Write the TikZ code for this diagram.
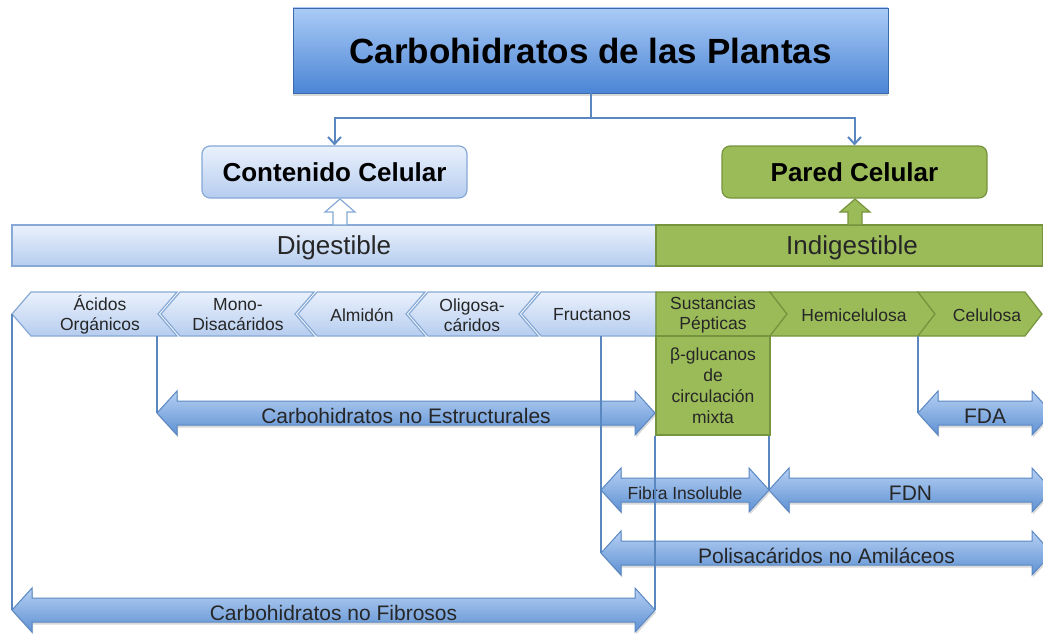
\documentclass[tikz,border=0pt]{standalone}
\usepackage{fontspec}
\setmainfont{Liberation Sans}
\usetikzlibrary{arrows.meta,shadows}
\definecolor{lnblue}{HTML}{5B87C0}
\definecolor{chevtop}{HTML}{EAF1FC}
\definecolor{chevbot}{HTML}{B6CDEF}
\definecolor{chevline}{HTML}{86A9D6}
\definecolor{grfill}{HTML}{9BBB59}
\definecolor{grline}{HTML}{76943D}
\definecolor{arrtop}{HTML}{B6D0F3}
\definecolor{arrbot}{HTML}{5E91D3}
\definecolor{arrline}{HTML}{5A88C4}
\definecolor{tittop}{HTML}{AACBF6}
\definecolor{titbot}{HTML}{4B85D5}
\tikzset{
 bluechev/.style={draw=chevline, line width=1.2pt, top color=chevtop, bottom color=chevbot},
 greenchev/.style={draw=grline, line width=1.2pt, fill=grfill},
 lbl/.style={font=\fontsize{17.5}{20}\selectfont, align=center, inner sep=0pt, text=black!85},
 barr/.style={draw=arrline, line width=1pt, top color=arrtop, bottom color=arrbot,
   drop shadow={shadow xshift=1pt,shadow yshift=-2.5pt,opacity=0.3}},
 arrtxt/.style={inner sep=0pt, text=black!85},
 conn/.style={draw=lnblue, line width=2pt},
 titlebox/.style={draw=titbot!80!black, line width=0.8pt, top color=tittop, bottom color=titbot,
   drop shadow={shadow xshift=0pt,shadow yshift=-3pt,opacity=0.3},
   font=\fontsize{35}{40}\selectfont\bfseries},
 bluebox/.style={draw=chevline, line width=1.2pt, top color=chevtop, bottom color=chevbot},
 greenbox/.style={draw=grline, line width=1.2pt, fill=grfill},
 headtxt/.style={font=\fontsize{26}{30}\selectfont\bfseries},
 bartxt/.style={font=\fontsize{26}{30}\selectfont, text=black!85, inner sep=0pt},
}
\newcommand\dblarr[6]{%
 \path[barr] ({#2},{#4}) -- ({#2+20},{#4-22}) -- ({#2+20},{#4-12}) -- ({#3-20},{#4-12})
   -- ({#3-20},{#4-22}) -- ({#3},{#4}) -- ({#3-20},{#4+22}) -- ({#3-20},{#4+12})
   -- ({#2+20},{#4+12}) -- ({#2+20},{#4+22}) -- cycle;
 \coordinate (#1-L) at ({#2},{#4});
 \coordinate (#1-R) at ({#3},{#4});
 \node[arrtxt, font=\fontsize{#5}{#5}\selectfont] (#1) at ({(#2+#3)/2},{#4+3}) {#6};
}
\begin{document}
\begin{tikzpicture}[x=1pt,y=-1pt]
\useasboundingbox (0,0) rectangle (1043,634);

% title and top level
\node[titlebox, minimum width=595pt, minimum height=85pt] (title) at (590.5,50.5) {Carbohidratos de las Plantas};
\node[bluebox, rounded corners=8pt, minimum width=265pt, minimum height=52pt, headtxt] (cont) at (334.5,172) {Contenido Celular};
\node[greenbox, rounded corners=8pt, minimum width=265pt, minimum height=52pt, headtxt] (pared) at (854.5,172) {Pared Celular};
\coordinate (tj) at (590.5,118);
\draw[conn] (title.south) -- (tj);
\draw[conn,-{Straight Barb[length=7pt,width=13pt]}] (tj) -| (cont.north);
\draw[conn,-{Straight Barb[length=7pt,width=13pt]}] (tj) -| (pared.north);

% bars
\node[bluebox, minimum width=644pt, minimum height=41pt] (dig) at (334,245.5) {};
\node[greenbox, minimum width=387pt, minimum height=41pt] (indig) at (849.5,245.5) {};
\node[bartxt] (digT) at (334,248) {Digestible};
\node[bartxt] (indigT) at (852,248) {Indigestible};

% hollow block arrows
\path[draw=chevline, line width=1.2pt, fill=white] (340,199) -- (355,212) -- (347,212) -- (347,225) -- (333,225) -- (333,212) -- (325,212) -- cycle;
\path[draw=grline, line width=1.2pt, fill=grfill] (855,199) -- (870,212) -- (862,212) -- (862,225) -- (848,225) -- (848,212) -- (840,212) -- cycle;

% blue chevrons (pointing left)
\path[bluechev] (12,314) -- (31,292) -- (177,292) -- (158,314) -- (177,336) -- (31,336) -- cycle;
\path[bluechev] (161,314) -- (180,292) -- (314,292) -- (295,314) -- (314,336) -- (180,336) -- cycle;
\path[bluechev] (298,314) -- (317,292) -- (425,292) -- (406,314) -- (425,336) -- (317,336) -- cycle;
\path[bluechev] (409,314) -- (428,292) -- (538,292) -- (519,314) -- (538,336) -- (428,336) -- cycle;
\path[bluechev] (522,314) -- (541,292) -- (656,292) -- (656,336) -- (541,336) -- cycle;
\node[lbl] (acidos) at (100,315) {Ácidos\\Orgánicos};
\node[lbl] (mono) at (238,315) {Mono-\\Disacáridos};
\node[lbl] (almidon) at (362,315) {Almidón};
\node[lbl] (oligo) at (472,315) {Oligosa-\\cáridos};
\node[lbl] (fruct) at (592,315) {Fructanos};
\coordinate (acTip) at (12,314);
\coordinate (monoB) at (157,336);
\coordinate (fructB) at (601,336);

% green chevrons (pointing right)
\path[greenchev] (656,292) -- (770,292) -- (787,314) -- (770,336) -- (656,336) -- cycle;
\path[greenchev] (770,292) -- (918,292) -- (935,314) -- (918,336) -- (770,336) -- (787,314) -- cycle;
\path[greenchev] (918,292) -- (1025,292) -- (1042,314) -- (1025,336) -- (918,336) -- (935,314) -- cycle;
\node[lbl] (sust) at (713,315) {Sustancias\\Pépticas};
\node[lbl] (hemi) at (854,315) {Hemicelulosa};
\node[lbl] (celu) at (987,315) {Celulosa};
\coordinate (celB) at (918,336);

% beta-glucanos box
\node[greenbox, minimum width=114pt, minimum height=99pt, inner sep=0pt, align=center,
  font=\fontsize{17.5}{21}\selectfont, text=black!85] (beta) at (713,385.5) {β-glucanos\\de\\circulación\\mixta};

% double arrows
\dblarr{noest}{157}{655}{413}{21}{Carbohidratos no Estructurales}
\dblarr{fda}{918}{1052}{413}{21}{FDA}
\dblarr{fibra}{601}{769}{490}{17.5}{Fibra Insoluble}
\dblarr{fdn}{769}{1052}{490}{21}{FDN}
\dblarr{pna}{601}{1052}{553}{21}{Polisacáridos no Amiláceos}
\dblarr{nofib}{12}{655}{610}{21}{Carbohidratos no Fibrosos}

% connector lines
\draw[conn] (acTip) -- (nofib-L);
\draw[conn] (monoB) -- (noest-L);
\draw[conn] (fructB) -- (pna-L);
\draw[conn] (beta.south -| nofib-R) -- (nofib-R);
\draw[conn] (beta.south -| fdn-L) -- (fdn-L);
\draw[conn] (celB) -- (fda-L);
\end{tikzpicture}
\end{document}
